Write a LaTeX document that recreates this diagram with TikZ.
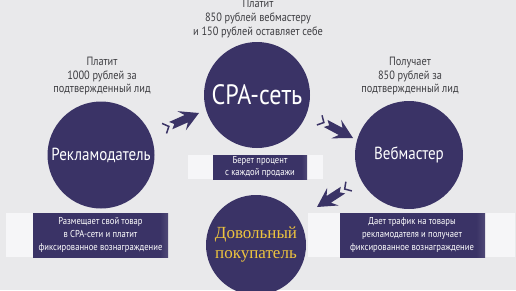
\documentclass[tikz,border=0pt]{standalone}
\usepackage{fontspec}
\setmainfont{PT Sans}[FakeStretch=0.86]
\newfontfamily\goldfont{Liberation Serif}

\definecolor{bgc}{RGB}{233,233,235}
\definecolor{navy}{RGB}{58,51,102}
\definecolor{gold}{RGB}{238,196,62}
\definecolor{boxbg}{RGB}{246,246,248}
\definecolor{lblc}{RGB}{62,62,66}
\pgfdeclarehorizontalshading{boxfade}{100bp}{color(0bp)=(navy!45!white); color(14bp)=(navy); color(72bp)=(navy); color(100bp)=(white)}

\begin{document}
\begin{tikzpicture}[
    x=1pt, y=1pt,
    every node/.style={align=center, inner sep=0pt},
    circ/.style={circle, fill=navy, inner sep=0pt, text=white},
    lbl/.style={font=\fontsize{12}{14}\selectfont, text=lblc},
    boxt/.style={font=\fontsize{10}{12.8}\selectfont, text=white},
    boxbase/.style={fill=boxbg},
    boxdk/.style={shading=boxfade},
    fatarrow/.pic={
      \fill[navy] (0,0) -- (-19,10.5) -- (-14,4) -- (-31,4) -- (-27,0)
                  -- (-31,-4) -- (-14,-4) -- (-19,-10.5) -- cycle;
      \draw[navy, line width=1.5pt] (-38,5.5) -- (-33,0) -- (-38,-5.5);
    },
  ]
  \fill[bgc] (0,0) rectangle (516,290);
  \useasboundingbox (0,0) rectangle (516,290);

  % text boxes
  \fill[boxbase] (6,33) rectangle (168,77);
  \shade[boxdk] (33,33) rectangle (168,77);
  \fill[boxbase] (308,33) rectangle (515,77);
  \shade[boxdk] (340,33) rectangle (485,77);
  \fill[boxbase] (188,111) rectangle (323,135);
  \shade[boxdk] (213,111) rectangle (307,135);

  % circles
  \node[circ, minimum size=106pt, font=\fontsize{28}{30}\selectfont] (cpa) at (257,195) {CPA-сеть};
  \node[circ, minimum size=107pt, font=\fontsize{17.5}{20}\selectfont] (adv) at (101,135) {Рекламодатель};
  \node[circ, minimum size=108pt, font=\fontsize{17.5}{20}\selectfont] (web) at (409,135) {Вебмастер};
  \node[circ, minimum size=100pt, font=\goldfont\fontsize{17}{20}\selectfont, text=gold] (buyer) at (256,45) {Довольный\\покупатель};

  % labels
  \node[lbl] (cpalbl) at (258,271) {Платит\\850 рублей вебмастеру\\и 150 рублей оставляет себе};
  \node[lbl] (advlbl) at (102,214) {Платит\\1000 рублей за\\подтвержденный лид};
  \node[lbl] (weblbl) at (410,214) {Получает\\850 рублей за\\подтвержденный лид};
  \node[boxt] (advbox) at (100.5,55) {Размещает свой товар\\в CPA-сети и платит\\фиксированное вознаграждение};
  \node[boxt] (webbox) at (412,55) {Дает трафик на товары\\рекламодателя и получает\\фиксированное вознаграждение};
  \node[boxt] (cpabox) at (260,123) {Берет процент\\с каждой продажи};

  % arrows
  \coordinate (tipA) at (199,177);
  \coordinate (tipB) at (353,152);
  \coordinate (tipC) at (317,83);
  \pic[rotate=24] at (tipA) {fatarrow};
  \pic[rotate=-28] at (tipB) {fatarrow};
  \pic[rotate=213] at (tipC) {fatarrow};
\end{tikzpicture}
\end{document}
